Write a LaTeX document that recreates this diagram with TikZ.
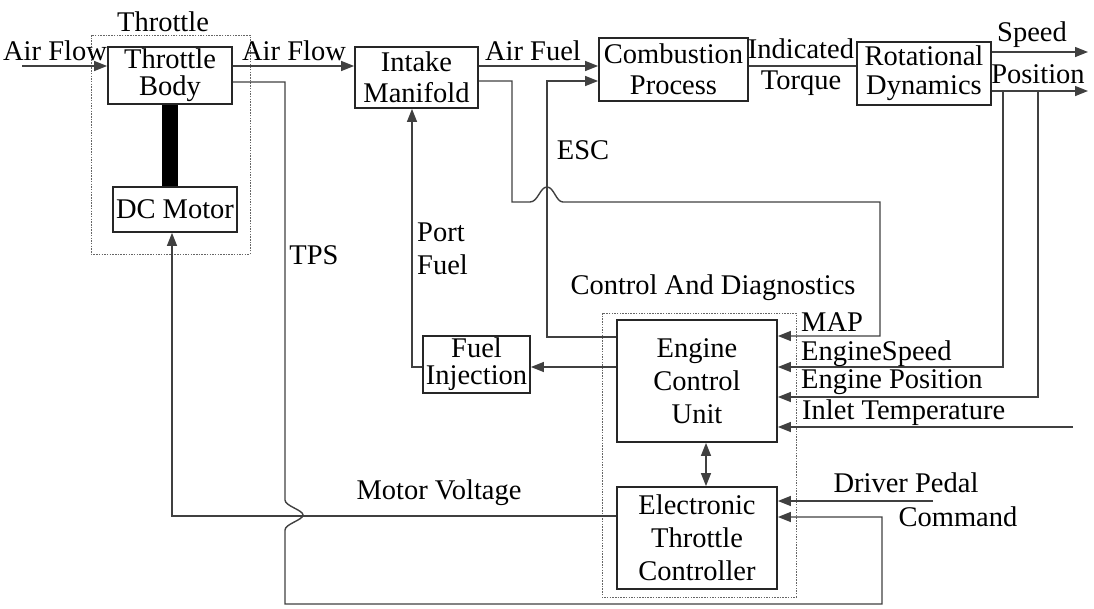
\documentclass[tikz,border=0pt]{standalone}
\usepackage{fontspec}
\setmainfont{Liberation Serif}
\usetikzlibrary{arrows.meta}
\begin{document}
\begin{tikzpicture}[x=1pt,y=-1pt,
  box/.style={draw=black!85, line width=1.8pt, inner sep=0pt, align=center, font=\fontsize{28.5}{29}\selectfont},
  lbl/.style={inner sep=0pt, font=\fontsize{28.5}{29}\selectfont},
  conn/.style={draw=black!75, line width=1.4pt},
  arr/.style={conn, -{Triangle[length=13pt,width=10pt]}},
  darr/.style={conn, {Triangle[length=13pt,width=10pt]}-{Triangle[length=13pt,width=10pt]}},
  grp/.style={draw=black!60, line width=1pt, dash pattern=on 1.5pt off 1.2pt}]
\useasboundingbox (0,0) rectangle (1094,608);
% group frames
\draw[grp] (91,35) rectangle (250,254);
\draw[grp] (602,313) rectangle (796,597);
% boxes
\node[box, minimum width=124pt, minimum height=57pt, font=\fontsize{28.5}{27}\selectfont] (tb) at (170,75.5) {Throttle\\Body};
\node[box, minimum width=124pt, minimum height=45pt] (dcm) at (175,209.5) {DC Motor};
\node[box, minimum width=123pt, minimum height=61pt, font=\fontsize{28.5}{31}\selectfont] (im) at (416.5,77.5) {Intake\\Manifold};
\node[box, minimum width=149pt, minimum height=63pt, font=\fontsize{28.5}{31}\selectfont] (cp) at (673.5,69.5) {Combustion\\Process};
\node[box, minimum width=134pt, minimum height=63pt, font=\fontsize{28.5}{29}\selectfont] (rd) at (924,73.5) {Rotational\\Dynamics};
\node[box, minimum width=160pt, minimum height=122pt, font=\fontsize{28.5}{33}\selectfont] (ecu) at (697,381) {Engine\\Control\\Unit};
\node[box, minimum width=160pt, minimum height=102pt, font=\fontsize{28.5}{33}\selectfont] (etc) at (697,538) {Electronic\\Throttle\\Controller};
\node[box, minimum width=107pt, minimum height=57pt, font=\fontsize{28.5}{27}\selectfont] (fi) at (476.5,364.5) {Fuel\\Injection};
% shaft
\fill[black] (162,0 |- tb.south) rectangle (178,0 |- dcm.north);
% free ends
\coordinate (afin) at (22,66);
\coordinate (spd) at (1088,52);
\coordinate (pos) at (1088,91);
\coordinate (itin) at (1073,427);
\coordinate (dpin) at (933,501);
% connectors
\draw[arr] (afin) -- (tb.west |- afin);
\draw[arr] (tb.east |- 0,66) -- (im.west |- 0,66);
\draw[arr] (im.east |- 0,66) -- (cp.west |- 0,66);
\draw[conn] (cp.east |- 0,66) -- (rd.west |- 0,66);
\draw[arr] (rd.east |- spd) -- (spd);
\draw[arr] (rd.east |- pos) -- (pos);
% TPS
\draw[arr] (tb.east |- 0,82) -- (285,82) -- (285,500)
  .. controls (285,506) and (303,510) .. (303,515)
  .. controls (303,520) and (285,524) .. (285,530)
  -- (285,604) -- (882,604) -- (882,517) -- (etc.east |- 0,517);
% Motor voltage
\draw[arr] (etc.west |- 0,516) -- (172,516) -- (172,0 |- dcm.south);
% MAP
\draw[arr] (im.east |- 0,81) -- (512,81) -- (512,202) -- (530,202)
  .. controls (538,202) and (540,187) .. (547,187)
  .. controls (554,187) and (556,202) .. (563,202)
  -- (880,202) -- (880,336) -- (ecu.east |- 0,336);
% ESC
\draw[arr] (ecu.west |- 0,337) -- (547,337) -- (547,81) -- (cp.west |- 0,81);
% Engine speed / position
\draw[arr] (1003,0 |- pos) -- (1003,367) -- (ecu.east |- 0,367);
\draw[arr] (1038,0 |- pos) -- (1038,397) -- (ecu.east |- 0,397);
\draw[arr] (itin) -- (ecu.east |- itin);
% fuel
\draw[arr] (ecu.west |- 0,367) -- (fi.east |- 0,367);
\draw[arr] (fi.west |- 0,367) -- (412,367) -- (412,0 |- im.south);
% ECU <-> ETC
\draw[darr] (706,0 |- ecu.south) -- (706,0 |- etc.north);
% driver pedal
\draw[arr] (dpin) -- (etc.east |- dpin);
% labels
\node[lbl] (lthr) at (163,22) {Throttle};
\node[lbl] (laf1) at (55,51) {Air Flow};
\node[lbl] (laf2) at (294,51) {Air Flow};
\node[lbl] (lafu) at (533,51) {Air Fuel};
\node[lbl] (lind) at (801,49) {Indicated};
\node[lbl] (ltor) at (801,83) {Torque};
\node[lbl] (lspd) at (1032,35) {Speed};
\node[lbl] (lpos) at (1038,74) {Position};
\node[lbl] (lesc) at (583,150) {ESC};
\node[lbl] (ltps) at (314,255) {TPS};
\node[lbl, anchor=west] (lport) at (417,232) {Port};
\node[lbl, anchor=west] (lfuel) at (417,265) {Fuel};
\node[lbl] (lcad) at (713,288) {Control And Diagnostics};
\node[lbl, anchor=west] (lmap) at (801,322) {MAP};
\node[lbl, anchor=west] (lesp) at (801,354) {EngineSpeed};
\node[lbl, anchor=west] (lepo) at (801,382) {Engine Position};
\node[lbl, anchor=west] (lint) at (802,413) {Inlet Temperature};
\node[lbl] (lmv) at (439,493) {Motor Voltage};
\node[lbl] (ldp) at (906,483) {Driver Pedal};
\node[lbl] (lcmd) at (958,517) {Command};
\end{tikzpicture}
\end{document}
